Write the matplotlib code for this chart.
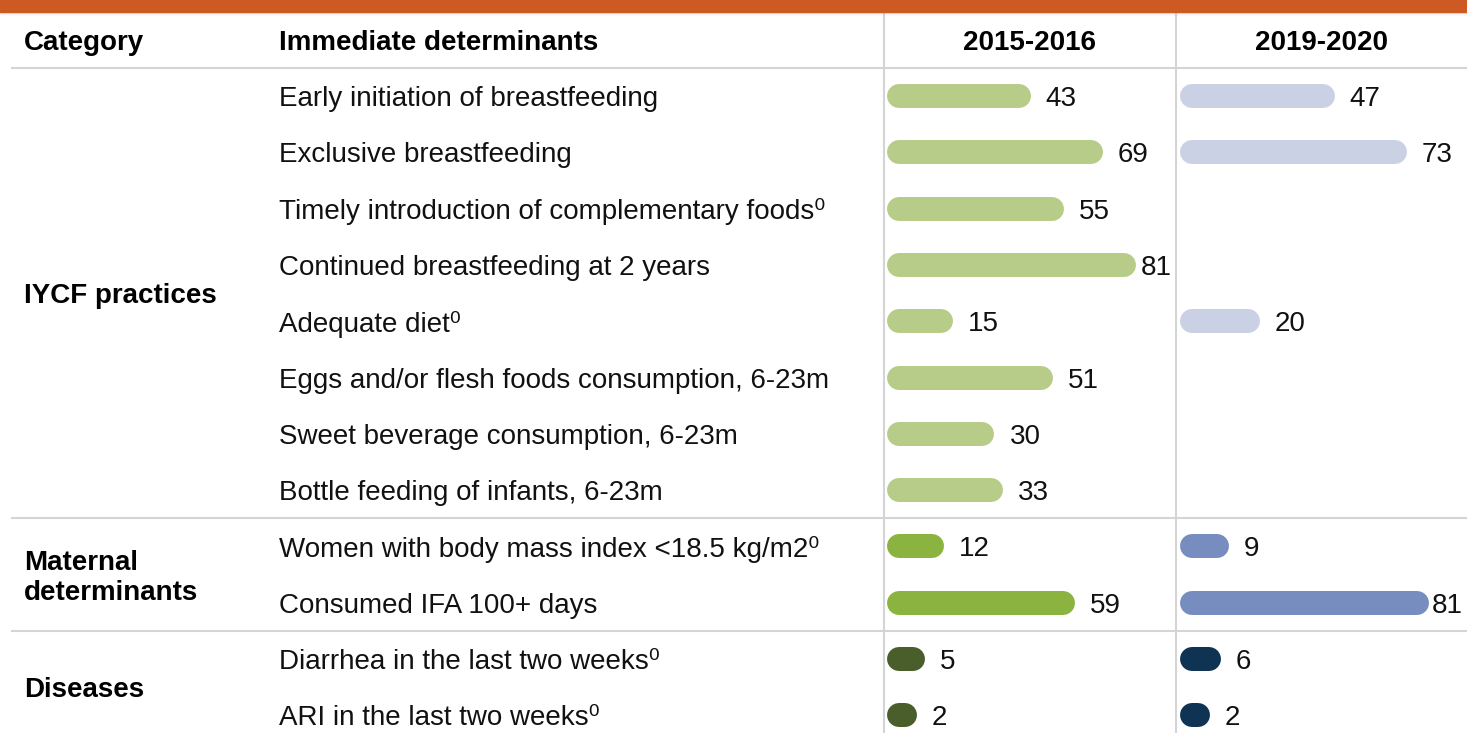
import numpy as np
import matplotlib
matplotlib.use("Agg")
import matplotlib.pyplot as plt
from matplotlib.transforms import blended_transform_factory, offset_copy
from matplotlib.patches import Rectangle

plt.rcParams['font.family'] = ['Liberation Sans', 'DejaVu Sans']

# data
determinants = ["Early initiation of breastfeeding",
                "Exclusive breastfeeding",
                "Timely introduction of complementary foods\u2070",
                "Continued breastfeeding at 2 years",
                "Adequate diet\u2070",
                "Eggs and/or flesh foods consumption, 6-23m",
                "Sweet beverage consumption, 6-23m",
                "Bottle feeding of infants, 6-23m",
                "Women with body mass index <18.5 kg/m2\u2070",
                "Consumed IFA 100+ days",
                "Diarrhea in the last two weeks\u2070",
                "ARI in the last two weeks\u2070"]
group_of_row = [0, 0, 0, 0, 0, 0, 0, 0, 1, 1, 2, 2]
categories = ["IYCF practices", "Maternal\ndeterminants", "Diseases"]
years = ["2015-2016", "2019-2020"]
vals_2016 = [43, 69, 55, 81, 15, 51, 30, 33, 12, 59, 5, 2]
vals_2020 = [47, 73, np.nan, np.nan, 20, np.nan, np.nan, np.nan, 9, 81, 6, 2]

colors_2016 = ["#b8cc8a", "#8ab33f", "#4a5e2c"]
colors_2020 = ["#cbd1e4", "#788dbf", "#0f3352"]

W, H = 1467, 733
fig = plt.figure(figsize=(W / 100, H / 100), dpi=100)
bg = fig.add_axes([0, 0, 1, 1])
bg.set_xlim(0, W)
bg.set_ylim(H, 0)
bg.axis("off")

# row geometry (pixels)
row0, row_h = 96, 56.3
ytop = (0 - row0) / row_h
ybot = (H - row0) / row_h
scale = 2.78  # px per unit

def bar_axes(x0):
    ax = fig.add_axes([x0 / W, 0, 100 * scale / W, 1])
    ax.set_xlim(0, 100)
    ax.set_ylim(ybot, ytop)
    ax.axis("off")
    return ax

bar_x0 = [899, 1192]
ax1 = bar_axes(bar_x0[0])
ax2 = bar_axes(bar_x0[1])
col_right = [1176, W]

# orange band on top with a soft shadow
bg.add_patch(Rectangle((0, 0), W, 12, color="#cd5a22", zorder=5))
for k, a in enumerate([0.25, 0.15, 0.08, 0.04]):
    bg.add_patch(Rectangle((0, 12 + k), W, 1, color="gray", alpha=a, lw=0, zorder=4))

# grid lines
line_c = "#d4d4d4"
for y in [68, 518, 631]:
    bg.plot([12, W], [y, y], color=line_c, lw=1.5)
for x in [884, 1176]:
    bg.plot([x, x], [12, H], color=line_c, lw=1.5)

# headers
fs = 20
txt_c = "#111111"
dy = 3  # nudge text down a little
bg.text(24, 40 + dy, "Category", fontsize=fs, fontweight="bold", va="center", ha="left")
bg.text(279, 40 + dy, "Immediate determinants", fontsize=fs, fontweight="bold", va="center", ha="left")
bg.text(1030, 40 + dy, years[0], fontsize=fs, fontweight="bold", va="center", ha="center")
bg.text(1322, 40 + dy, years[1], fontsize=fs, fontweight="bold", va="center", ha="center")

rows = np.arange(len(determinants))
tr = offset_copy(blended_transform_factory(bg.transData, ax1.transData),
                 fig=fig, x=0, y=-dy, units="dots")
for i, lab in enumerate(determinants):
    bg.text(279, i, lab, fontsize=fs, va="center", ha="left", color=txt_c, transform=tr)

for g, cat in enumerate(categories):
    idx = [i for i in rows if group_of_row[i] == g]
    yc = (min(idx) + max(idx)) / 2
    bg.text(24, yc, cat, fontsize=fs, fontweight="bold", va="center", ha="left",
            transform=tr, linespacing=1.2)

bar_lw = 24 * 72 / 100
for k, (ax, vals, cols) in enumerate([(ax1, vals_2016, colors_2016), (ax2, vals_2020, colors_2020)]):
    for i, v in enumerate(vals):
        if np.isnan(v):
            continue
        c = cols[group_of_row[i]]
        ax.plot([0, v], [i, i], color=c, lw=bar_lw, solid_capstyle="round", clip_on=False)
        # value label right of the bar, kept inside the column
        if bar_x0[k] + v * scale + 27 + 32 > col_right[k]:
            bg.text(col_right[k] - 4, i, f"{v:g}", fontsize=fs, va="center", ha="right",
                    color=txt_c, transform=tr)
        else:
            ax.annotate(f"{v:g}", (v, i), xytext=(27, -dy), textcoords="offset pixels",
                        fontsize=fs, va="center", ha="left", color=txt_c,
                        annotation_clip=False)

fig.savefig("out.png", dpi=100)
